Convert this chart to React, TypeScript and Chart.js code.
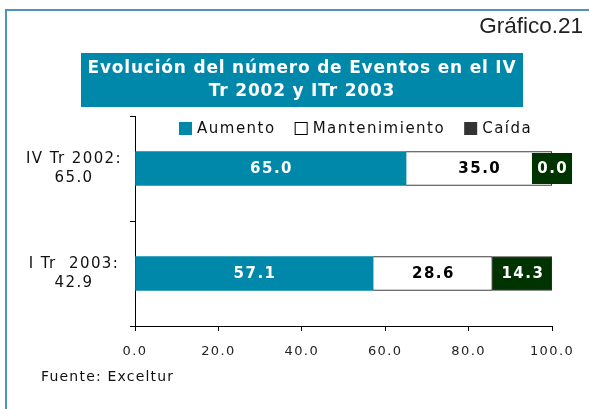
import React, { useEffect, useRef } from 'react';
import { Chart, registerables } from 'chart.js';
Chart.register(...registerables);

const categories: string[][] = [["IV Tr 2002:", "65.0"], ["I Tr  2003:", "42.9"]];
const seriesNames = ["Aumento", "Mantenimiento", "Caída"];
const aumento = [65.0, 57.1];
const mantenimiento = [35.0, 28.6];
const caida = [0.0, 14.3];
const xTicks = [0, 20, 40, 60, 80, 100];
const titleLines = ["Evolución del número de Eventos en el IV", "Tr 2002 y ITr 2003"];
const chartNumber = "Gráfico.21";
const sourceText = "Fuente: Exceltur";

const TEAL = '#0088AA';
const GREEN = '#003300';
const legendBoxColors = [TEAL, '#FFFFFF', '#333333'];
const FONT = '"DejaVu Sans", Verdana, sans-serif';

const spacingPlugin = {
  id: 'spacing',
  beforeUpdate(chart: any) { chart.ctx.letterSpacing = '1.4px'; },
  beforeLayout(chart: any) { chart.ctx.letterSpacing = '1.4px'; },
  beforeDraw(chart: any) {
    const ctx = chart.ctx;
    ctx.letterSpacing = '1.4px';
    ctx.save();
    ctx.fillStyle = '#fff';
    ctx.fillRect(0, 0, chart.width, chart.height);
    // frame
    ctx.strokeStyle = '#4A94C4';
    ctx.lineWidth = 2;
    ctx.strokeRect(6, 10, 800, 600);
    // number
    ctx.letterSpacing = '0px';
    ctx.fillStyle = '#222';
    ctx.font = '22.5px "Liberation Sans", Arial, sans-serif';
    ctx.textAlign = 'right';
    ctx.textBaseline = 'alphabetic';
    ctx.fillText(chartNumber, 583, 33);
    // title box
    ctx.fillStyle = TEAL;
    ctx.fillRect(81, 53, 442, 54);
    ctx.letterSpacing = '0.8px';
    ctx.fillStyle = '#fff';
    ctx.font = 'bold 17px ' + FONT;
    ctx.textAlign = 'center';
    ctx.textBaseline = 'middle';
    ctx.fillText(titleLines[0], 302, 69);
    ctx.fillText(titleLines[1], 302, 92);
    // source
    ctx.letterSpacing = '1.2px';
    ctx.fillStyle = '#111';
    ctx.font = '14px ' + FONT;
    ctx.textAlign = 'left';
    ctx.fillText(sourceText, 41, 377);
    ctx.restore();
    ctx.letterSpacing = '1.4px';
  },
  afterDatasetsDraw(chart: any) {
    const ctx = chart.ctx;
    ctx.save();
    ctx.font = 'bold 15px ' + FONT;
    ctx.letterSpacing = '1.5px';
    ctx.textAlign = 'center';
    ctx.textBaseline = 'middle';
    chart.data.datasets.forEach((ds: any, di: number) => {
      const meta = chart.getDatasetMeta(di);
      meta.data.forEach((el: any, i: number) => {
        const v = ds.data[i] as number;
        const p = el.getProps(['x', 'y', 'base'], true);
        const cx = (p.x + p.base) / 2;
        const txt = v.toFixed(1);
        if (di === 2) {
          const w = ctx.measureText(txt).width + 9;
          const h = 31;
          ctx.fillStyle = GREEN;
          ctx.fillRect(cx - w / 2, p.y - h / 2, w, h);
        }
        ctx.fillStyle = di === 1 ? '#000' : '#fff';
        ctx.fillText(txt, cx + 0.75, p.y + 1);
      });
    });
    ctx.restore();
  },
  afterDraw(chart: any) {
    const ctx = chart.ctx;
    ctx.save();
    ctx.font = '15px ' + FONT;
    ctx.letterSpacing = '1.5px';
    ctx.textBaseline = 'middle';
    ctx.textAlign = 'left';
    let x = 179;
    const top = 122, size = 13;
    chart.data.datasets.forEach((ds: any, di: number) => {
      ctx.fillStyle = legendBoxColors[di];
      ctx.fillRect(x, top, size, size);
      if (di === 1) {
        ctx.strokeStyle = '#000';
        ctx.lineWidth = 1;
        ctx.strokeRect(x + 0.5, top + 0.5, size - 1, size - 1);
      }
      ctx.fillStyle = '#111';
      const tx = x + size + 5;
      ctx.fillText(ds.label, tx, top + size / 2 + 1);
      x = tx + ctx.measureText(ds.label).width + 19;
    });
    ctx.restore();
  },
};

export default function App() {
  const ref = useRef<HTMLCanvasElement>(null);
  useEffect(() => {
    if (!ref.current) return;
    const chart = new Chart(ref.current, {
      type: 'bar',
      data: {
        labels: categories as any,
        datasets: [
          { label: seriesNames[0], data: aumento, backgroundColor: TEAL, borderWidth: 0, barThickness: 34 },
          { label: seriesNames[1], data: mantenimiento, backgroundColor: '#FFFFFF', borderColor: '#000', borderWidth: 1, barThickness: 34 },
          { label: seriesNames[2], data: caida, backgroundColor: GREEN, borderColor: '#333', borderWidth: 1, barThickness: 34 },
        ],
      },
      options: {
        animation: false,
        responsive: false,
        indexAxis: 'y',
        layout: { padding: { left: 0, right: 37, top: 116, bottom: 43 } },
        plugins: { legend: { display: false }, tooltip: { enabled: false }, title: { display: false } },
        scales: {
          x: {
            stacked: true,
            min: 0,
            max: 100,
            afterBuildTicks: (s: any) => { s.ticks = xTicks.map((v) => ({ value: v })); },
            ticks: {
              callback: (v: any) => Number(v).toFixed(1),
              font: { family: FONT, size: 13 },
              color: '#222',
              padding: 13,
              maxRotation: 0,
              autoSkip: false,
            },
            grid: { drawOnChartArea: false, tickLength: 5, color: '#000' },
            border: { color: '#000', width: 1 },
            afterFit: (s: any) => { s.height = 40; },
          },
          y: {
            stacked: true,
            ticks: {
              font: { family: FONT, size: 15, lineHeight: 1.3 },
              color: '#111',
              padding: 8,
              crossAlign: 'center',
            },
            grid: { drawOnChartArea: false, tickLength: 5, color: '#000', offset: true },
            border: { color: '#000', width: 1 },
            afterFit: (s: any) => { s.width = 135; },
          },
        },
      } as any,
      plugins: [spacingPlugin],
    });
    return () => chart.destroy();
  }, []);
  return (
    <div style={{ position: 'fixed', left: 0, top: 0, width: 589, height: 409 }}>
      <canvas ref={ref} width={589} height={409} style={{ display: 'block', width: 589, height: 409 }} />
    </div>
  );
}
